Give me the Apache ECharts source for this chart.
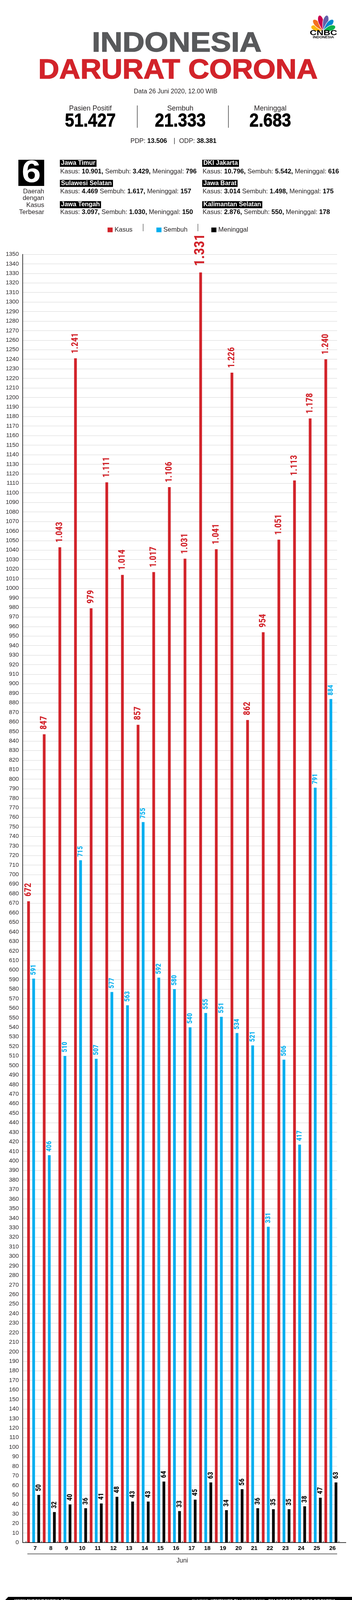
<!DOCTYPE html>
<html>
<head>
<meta charset="utf-8">
<script src="https://cdn.jsdelivr.net/npm/echarts@6/dist/echarts.min.js"></script>
<style>
html,body{margin:0;padding:0;background:#fff;}
#c{width:900px;height:4110px;}
</style>
</head>
<body>
<div id="c"></div>
<script>
// ---- data ----
const days = ['7','8','9','10','11','12','13','14','15','16','17','18','19','20','21','22','23','24','25','26'];
const kasus = [672, 847, 1043, 1241, 979, 1111, 1014, 857, 1017, 1106, 1031, 1331, 1041, 1226, 862, 954, 1051, 1113, 1178, 1240];
const sembuh = [591, 406, 510, 715, 507, 577, 563, 755, 592, 580, 540, 555, 551, 534, 521, 331, 506, 417, 791, 884];
const meninggal = [50, 32, 40, 36, 41, 48, 43, 43, 64, 33, 45, 63, 34, 56, 36, 35, 35, 38, 47, 63];
const yMin = 0, yMax = 1350, yInterval = 10;
const seriesNames = ['Kasus', 'Sembuh', 'Meninggal'];
const totals = {positif: '51.427', sembuh: '21.333', meninggal: '2.683', pdp: '13.506', odp: '38.381'};
const regionNames = ['Jawa Timur', 'Sulawesi Selatan', 'Jawa Tengah', 'DKI Jakarta', 'Jawa Barat', 'Kalimantan Selatan'];
const regionKasus = ['10.901,', '4.469', '3.097,', '10.796,', '3.014', '2.876,'];
const regionSembuh = ['3.429,', '1.617,', '1.030,', '5.542,', '1.498,', '550,'];
const regionMeninggal = ['796', '157', '150', '616', '175', '178'];

const RED = '#d2232a', BLUE = '#00aeef', BLACK = '#000000', TXT = '#231f20';
const BASE = "'Liberation Sans', Arial, Helvetica, sans-serif";
const NARROW = "'Liberation Sans Narrow', 'Arial Narrow', 'Roboto Condensed', 'DejaVu Sans Condensed', 'Liberation Sans', sans-serif";

function fmt(v) {
  return v >= 1000 ? Math.floor(v / 1000) + '.' + String(v % 1000).padStart(3, '0') : String(v);
}

const maxIdx = kasus.indexOf(Math.max.apply(null, kasus));

function T(x, y, text, o) {
  o = o || {};
  const st = {
    text: text, x: 0, y: 0,
    fill: o.fill || TXT,
    fontSize: o.fontSize || 16,
    fontWeight: o.fontWeight || 'normal',
    fontStyle: o.fontStyle || 'normal',
    fontFamily: o.fontFamily || BASE,
    align: o.align || 'center', textAlign: o.align || 'center',
    verticalAlign: 'middle', textVerticalAlign: 'middle'
  };
  if (o.rich) st.rich = o.rich;
  if (o.bg) { st.backgroundColor = o.bg; st.padding = o.padding; }
  if (o.stroke) { st.stroke = o.stroke; st.lineWidth = o.lineWidth; }
  return {type: 'text', x: x, y: y, scaleX: o.scaleX || 1, z: 10, style: st};
}
function L(x1, y1, x2, y2, c, w) {
  return {type: 'line', z: 10, shape: {x1: x1, y1: y1, x2: x2, y2: y2}, style: {stroke: c || '#333', lineWidth: w || 1.5}};
}
function bez(p0, p1, p2, p3, n, out) {
  for (let k = 1; k <= n; k++) {
    const t = k / n, u = 1 - t;
    out.push([
      u*u*u*p0[0] + 3*u*u*t*p1[0] + 3*u*t*t*p2[0] + t*t*t*p3[0],
      u*u*u*p0[1] + 3*u*u*t*p1[1] + 3*u*t*t*p2[1] + t*t*t*p3[1]
    ]);
  }
}
function feather(bx, by, ang, len, w, color) {
  const a = ang * Math.PI / 180;
  const dx = Math.sin(a), dy = -Math.cos(a);
  const nx = -dy, ny = dx;
  const P = (s, t) => [bx + dx * len * s + nx * w * t, by + dy * len * s + ny * w * t];
  const pts = [P(0, 0)];
  bez(P(0, 0), P(0.25, 0.7), P(0.5, 1), P(0.65, 1), 8, pts);
  bez(P(0.65, 1), P(0.82, 1), P(1, 0.6), P(1, 0), 8, pts);
  bez(P(1, 0), P(1, -0.6), P(0.82, -1), P(0.65, -1), 8, pts);
  bez(P(0.65, -1), P(0.5, -1), P(0.25, -0.7), P(0, 0), 8, pts);
  return {type: 'polygon', z: 10, shape: {points: pts}, style: {fill: color, stroke: '#fff', lineWidth: 1.2}};
}

const graphics = [];
// logo
const fcol = ['#fcb711', '#f37021', '#cc004c', '#6460aa', '#0089d0', '#0db14b'];
const fang = [-70, -42, -14, 14, 42, 70];
const flen = [33, 38, 41, 41, 38, 33];
for (let i = 0; i < 6; i++) graphics.push(feather(826.5, 79, fang[i], flen[i], 7, fcol[i]));
graphics.push(T(827, 85, 'CNBC', {fontSize: 18, fontWeight: 'bold', scaleX: 1.35, fill: '#000'}));
graphics.push(T(827, 95.5, 'INDONESIA', {fontSize: 8.5, fontWeight: 'bold', scaleX: 1.15, fill: '#000'}));
// titles
graphics.push(T(452, 112, 'INDONESIA', {fontSize: 71, fontWeight: 'bold', scaleX: 1.1, fill: '#58595b', stroke: '#58595b', lineWidth: 1.5}));
graphics.push(T(455, 182, 'DARURAT CORONA', {fontSize: 70, fontWeight: 'bold', scaleX: 1.064, fill: RED, stroke: RED, lineWidth: 1.5}));
graphics.push(T(449, 235, 'Data 26 Juni 2020, 12.00 WIB', {fontSize: 16}));
// totals
graphics.push(T(231, 278, 'Pasien Positif', {fontSize: 18}));
graphics.push(T(461, 278, 'Sembuh', {fontSize: 18}));
graphics.push(T(691, 278, 'Meninggal', {fontSize: 18}));
graphics.push(T(231, 311, totals.positif, {fontSize: 48, fontWeight: 'bold', scaleX: 0.885, fill: '#000', stroke: '#000', lineWidth: 1}));
graphics.push(T(461, 311, totals.sembuh, {fontSize: 48, fontWeight: 'bold', scaleX: 0.885, fill: '#000', stroke: '#000', lineWidth: 1}));
graphics.push(T(691, 311, totals.meninggal, {fontSize: 48, fontWeight: 'bold', scaleX: 0.885, fill: '#000', stroke: '#000', lineWidth: 1}));
graphics.push(L(351, 270, 351, 327, '#444', 1.5));
graphics.push(L(584, 270, 584, 327, '#444', 1.5));
const richB = {b: {fontWeight: 'bold', fontSize: 16.5, fontFamily: BASE, fill: '#000'}};
graphics.push(T(427, 361, 'PDP: {b|' + totals.pdp + '}', {fontSize: 16.5, align: 'right', rich: richB}));
graphics.push(L(446, 353, 446, 369, '#444', 1.5));
graphics.push(T(458, 361, 'ODP: {b|' + totals.odp + '}', {fontSize: 16.5, align: 'left', rich: richB}));
// regions block
graphics.push({type: 'rect', z: 10, shape: {x: 47, y: 409, width: 66, height: 67}, style: {fill: '#000'}});
graphics.push(T(80, 444, '6', {fontSize: 80, fontWeight: 'bold', scaleX: 1.1, fill: '#fff'}));
['Daerah', 'dengan', 'Kasus', 'Terbesar'].forEach((s, i) => graphics.push(T(113, 490 + i * 17.8, s, {fontSize: 16.5, align: 'right'})));
const colX = [153, 517];
const labY = [418, 469.5, 524];
const lineY = [439, 490, 543];
for (let i = 0; i < 6; i++) {
  const cx = colX[Math.floor(i / 3)], r = i % 3;
  graphics.push(T(cx, labY[r], regionNames[i], {fontSize: 16, fontWeight: 'bold', fill: '#fff', align: 'left', bg: '#000', padding: [1, 3, 1, 3]}));
  graphics.push(T(cx + 1, lineY[r], 'Kasus: {b|' + regionKasus[i] + '} Sembuh: {b|' + regionSembuh[i] + '} Meninggal: {b|' + regionMeninggal[i] + '}',
    {fontSize: 16.5, align: 'left', rich: richB}));
}
// legend dividers
graphics.push(L(366, 573, 366, 592, '#444', 1.2));
graphics.push(L(506, 573, 506, 592, '#444', 1.2));
// x axis base line, month line and label
graphics.push(L(58, 3949, 885, 3949, '#000', 1.5));
graphics.push(L(70, 3978, 862, 3978, '#3c3c3c', 1.5));
graphics.push(T(466, 3996, 'Juni', {fontSize: 16}));
// footer
graphics.push({type: 'polygon', z: 10, shape: {points: [[21, 4088], [900, 4088], [900, 4110], [0, 4110]]}, style: {fill: '#000'}});
graphics.push(T(37, 4099, 'WWW.CNBCINDONESIA.COM', {fontSize: 10, fontWeight: 'bold', fill: '#fff', align: 'left'}));
graphics.push(T(857, 4099, '{n|SUMBER: }{b|KEMENKES RI}{n| / INFOGRAFIS : }{b|TIM INFOGRAFIS CNBC INDONESIA}', {
  fontSize: 10, fill: '#fff', align: 'right',
  rich: {
    n: {fontSize: 10, fontStyle: 'italic', fill: '#e6e6e6', fontFamily: BASE},
    b: {fontSize: 10, fontStyle: 'italic', fontWeight: 'bold', fill: '#fff', fontFamily: BASE}
  }
}));

function labelCfg(color, size, dist) {
  return {
    show: true, position: 'top', rotate: 90, align: 'left', verticalAlign: 'middle',
    distance: dist, color: color, fontFamily: NARROW, fontWeight: 'bold', fontSize: size,
    formatter: p => fmt(p.value)
  };
}

const chart = echarts.init(document.getElementById('c'), null, {renderer: 'canvas'});
chart.setOption({
  animation: false,
  backgroundColor: '#fff',
  textStyle: {fontFamily: BASE},
  legend: {
    left: 270, top: 575, itemWidth: 13, itemHeight: 12, itemGap: 61, icon: 'rect', selectedMode: false,
    textStyle: {fontSize: 16.5, color: TXT, fontFamily: BASE},
    data: seriesNames
  },
  grid: [
    {left: 58, top: 651, width: 804, height: 3298},
    {left: 66, top: 651, width: 800, height: 3298}
  ],
  xAxis: [
    {gridIndex: 0, type: 'category', data: days, show: false},
    {
      gridIndex: 1, type: 'category', data: days,
      axisLine: {show: false},
      axisTick: {show: true, inside: true, length: 4, lineStyle: {color: '#000', width: 1}},
      axisLabel: {fontSize: 15, fontWeight: 'bold', color: '#000', margin: 7, padding: [0, 0, 0, 8], fontFamily: BASE},
      splitLine: {show: false}
    }
  ],
  yAxis: [
    {
      gridIndex: 0, type: 'value', min: yMin, max: yMax, interval: yInterval,
      axisLine: {show: true, lineStyle: {color: '#000', width: 1.5}},
      axisTick: {show: false},
      axisLabel: {fontSize: 15, color: TXT, margin: 10, fontFamily: BASE, formatter: v => String(v)},
      splitLine: {show: true, lineStyle: {color: '#d6d6d6', width: 1}}
    },
    {gridIndex: 1, type: 'value', min: yMin, max: yMax, interval: yInterval, show: false, splitLine: {show: false}}
  ],
  series: [
    {
      name: seriesNames[0], type: 'bar', xAxisIndex: 1, yAxisIndex: 1, barWidth: 7, barGap: '86%',
      itemStyle: {color: RED},
      label: labelCfg(RED, 23, 12),
      data: kasus.map((v, i) => i === maxIdx ? {value: v, label: {fontSize: 36, distance: 16}} : v)
    },
    {
      name: seriesNames[1], type: 'bar', xAxisIndex: 1, yAxisIndex: 1, barWidth: 7, barGap: '86%',
      itemStyle: {color: BLUE},
      label: labelCfg(BLUE, 18, 9),
      data: sembuh
    },
    {
      name: seriesNames[2], type: 'bar', xAxisIndex: 1, yAxisIndex: 1, barWidth: 7, barGap: '86%',
      itemStyle: {color: BLACK},
      label: labelCfg('#000', 18, 9),
      data: meninggal
    }
  ],
  graphic: graphics
});
</script>
</body>
</html>
